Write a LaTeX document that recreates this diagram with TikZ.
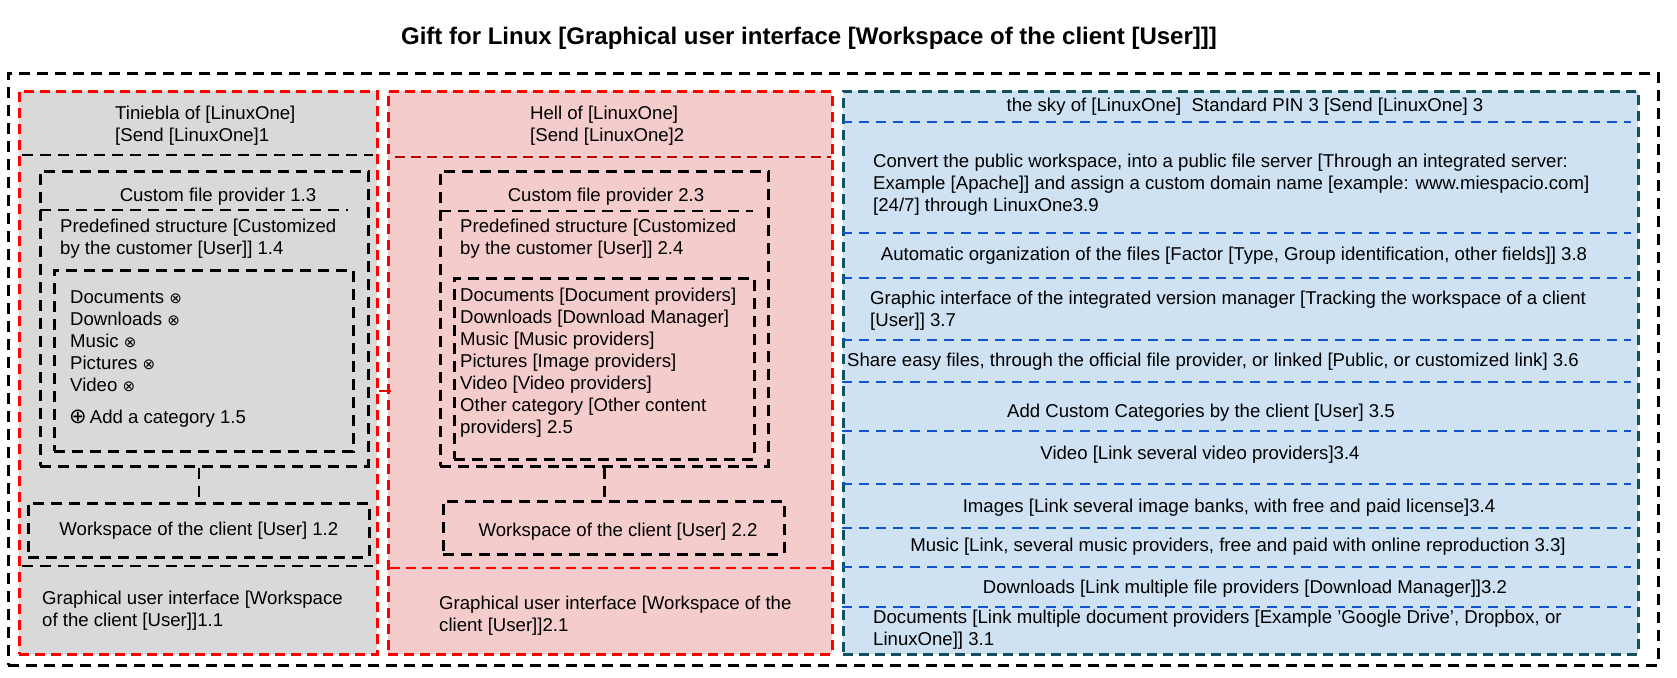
\documentclass[tikz,border=0pt]{standalone}
\usepackage{fontspec}
\setmainfont{Liberation Sans}
\newfontfamily\symf{DejaVu Sans}
\newcommand\bodyfont{\fontsize{18.6}{22}\selectfont}
\newcommand\ot{{\symf\fontsize{15}{15}\selectfont ⊗}}
\definecolor{grayF}{HTML}{D9D9D9}
\definecolor{pinkF}{HTML}{F4CCCC}
\definecolor{blueF}{HTML}{CFE2F3}
\definecolor{redB}{HTML}{FF0000}
\definecolor{dredB}{HTML}{B80000}
\definecolor{tealB}{HTML}{134F5C}
\definecolor{blueL}{HTML}{1155CC}
\tikzset{
  bdash/.style={draw=black, line width=2.7pt, dash pattern=on 11pt off 7pt},
  rdash/.style={draw=redB, line width=2.5pt, dash pattern=on 10pt off 6pt},
  drdash/.style={draw=dredB, line width=2.5pt, dash pattern=on 10pt off 6pt},
  tdash/.style={draw=tealB, line width=2.5pt, dash pattern=on 10pt off 6pt},
  bldash/.style={draw=blueL, line width=2.5pt, dash pattern=on 10pt off 7pt},
  frame/.style={rectangle, inner sep=0pt, anchor=north west},
  txt/.style={inner sep=0pt, font=\bodyfont, align=left, anchor=base west},
  ctxt/.style={inner sep=0pt, font=\bodyfont, align=center, anchor=base},
}
\begin{document}
\begin{tikzpicture}[x=1pt,y=-1pt]
\useasboundingbox (0,0) rectangle (1677,677);
\fill[white] (0,0) rectangle (1677,677);

% title
\node[inner sep=0pt, anchor=base, font=\fontsize{24}{28}\selectfont\bfseries] (title) at (809,45) {Gift for Linux [Graphical user interface [Workspace of the client [User]]]};

% outer frame
\node[frame, bdash, minimum width=1650pt, minimum height=592pt] (outer) at (7,72) {};

% panels
\node[frame, rdash, fill=grayF, minimum width=358pt, minimum height=563pt] (p1) at (18,90) {};
\node[frame, rdash, fill=pinkF, minimum width=444pt, minimum height=563pt] (p2) at (387,90) {};
\node[frame, tdash, fill=blueF, minimum width=795pt, minimum height=563pt] (p3) at (842,90) {};

% ---------- left panel ----------
\node[txt] (h1) at (115,141) {Tiniebla of [LinuxOne]\\{}[Send [LinuxOne]1};
\draw[bdash] (22,155) -- (373,155);
\draw[bdash] (22,566) -- (373,566);
\node[frame, bdash, minimum width=328pt, minimum height=295pt] (b13) at (39,170) {};
\node[ctxt] (t13) at (218,201) {Custom file provider 1.3};
\draw[bdash] (40,210) -- (348,210);
\node[txt] (t14) at (60,254) {Predefined structure [Customized\\ by the customer [User]] 1.4};
\node[frame, bdash, minimum width=299pt, minimum height=181pt] (l1) at (53,269) {};
\node[txt] (items1) at (70,391) {Documents \ot\\ Downloads \ot\\ Music \ot\\ Pictures \ot\\ Video \ot};
\node[txt] (add1) at (69,423) {{\symf\fontsize{21}{21}\selectfont ⊕}\,Add a category 1.5};
\node[frame, bdash, minimum width=341pt, minimum height=54pt, font=\bodyfont] (w12) at (27,502) {Workspace of the client [User] 1.2};
\draw[bdash] (w12.north |- b13.south) -- (w12.north);
\node[txt] (g11) at (42,626) {Graphical user interface [Workspace\\ of the client [User]]1.1};

% ---------- middle panel ----------
\node[txt] (h2) at (530,141) {Hell of [LinuxOne]\\{}[Send [LinuxOne]2};
\draw[drdash] (395,157) -- (831,157);
\draw[rdash] (390,568) -- (831,568);
\node[frame, bdash, minimum width=328pt, minimum height=295pt] (b23) at (439,170) {};
\node[ctxt] (t23) at (606,201) {Custom file provider 2.3};
\draw[bdash] (440,211) -- (753,211);
\node[txt] (t24) at (460,254) {Predefined structure [Customized\\ by the customer [User]] 2.4};
\node[frame, bdash, minimum width=300pt, minimum height=181pt] (l2) at (453,277) {};
\node[txt] (items2) at (460,433) {Documents [Document providers]\\ Downloads [Download Manager]\\ Music [Music providers]\\ Pictures [Image providers]\\ Video [Video providers]\\ Other category [Other content\\ providers] 2.5};
\node[frame, bdash, minimum width=341pt, minimum height=53pt] (w22) at (442,500) {};
\node[ctxt] (t22) at (618,536) {Workspace of the client [User] 2.2};
\draw[bdash] (b23.south) -- (b23.south |- w22.north);
\node[txt] (g21) at (439,631) {Graphical user interface [Workspace of the\\ client [User]]2.1};

% connector between left and middle panel
\coordinate (cy) at (0,391);
\draw[draw=redB, line width=2.5pt] (p1.east |- cy) -- ([xshift=4pt]p2.west |- cy);

% ---------- right panel ----------
\node[ctxt] (h3) at (1245,111) {the sky of [LinuxOne]\ \ Standard PIN 3 [Send [LinuxOne] 3};
\foreach \yy in {122,233,278,340,382,431,484,528,567,607}
  \draw[bldash] (842,\yy) -- (1631,\yy);
\node[txt] (r39) at (873,211) {Convert the public workspace, into a public file server [Through an integrated server:\\ Example [Apache]] and assign a custom domain name [example: www.miespacio.com]\\{}[24/7] through LinuxOne3.9};
\node[ctxt] (r38) at (1234,260) {Automatic organization of the files [Factor [Type, Group identification, other fields]] 3.8};
\node[txt] (r37) at (870,326) {Graphic interface of the integrated version manager [Tracking the workspace of a client\\{}[User]] 3.7};
\node[txt] (r36) at (847,366) {Share easy files, through the official file provider, or linked [Public, or customized link] 3.6};
\node[ctxt] (r35) at (1201,417) {Add Custom Categories by the client [User] 3.5};
\node[ctxt] (r34a) at (1200,459) {Video [Link several video providers]3.4};
\node[ctxt] (r34b) at (1229,512) {Images [Link several image banks, with free and paid license]3.4};
\node[ctxt] (r33) at (1238,551) {Music [Link, several music providers, free and paid with online reproduction 3.3]};
\node[ctxt] (r32) at (1245,593) {Downloads [Link multiple file providers [Download Manager]]3.2};
\node[txt] (r31) at (873,645) {Documents [Link multiple document providers [Example \symbol{39}Google Drive\symbol{39}, Dropbox, or\\ LinuxOne]] 3.1};
\end{tikzpicture}
\end{document}
